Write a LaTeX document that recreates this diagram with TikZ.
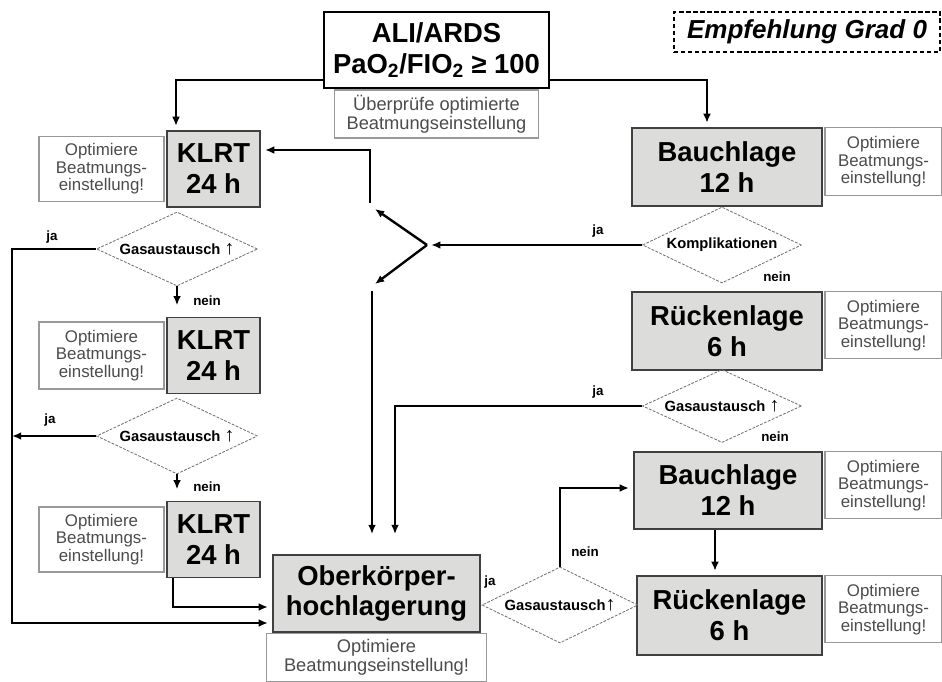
\documentclass[tikz,border=0pt]{standalone}
\usepackage{fontspec}
\setmainfont{Liberation Sans}
\usetikzlibrary{positioning, arrows.meta, shapes.geometric}
\definecolor{BoxGray}{HTML}{DCDCDA}
\newcommand{\up}{{\fontsize{14}{14}\selectfont ↑}}

\begin{document}
\begin{tikzpicture}[x=0.025cm, y=-0.025cm, >={Latex[length=6.5pt,width=5.5pt]},
  font=\fontsize{10}{11}\selectfont,
  wh/.style 2 args={minimum width=#1*0.025cm, minimum height=#2*0.025cm},
  b/.style={rectangle, draw=black!75, line width=1.3pt, fill=BoxGray, inner sep=0pt, align=center, font=\fontsize{19.5}{22}\selectfont\bfseries},
  opt/.style={rectangle, draw=black!40, line width=1pt, fill=white, text=black!70, inner sep=0pt, align=center, font=\fontsize{12}{12.5}\selectfont},
  dec/.style={diamond, aspect=2.1, draw=black!55, line width=0.6pt, dash pattern=on 2pt off 1pt, inner sep=0pt, font=\fontsize{10.5}{11}\selectfont\bfseries},
  lbl/.style={inner sep=0pt, font=\fontsize{9.5}{10}\selectfont\bfseries},
  con/.style={->, line width=1.7pt, shorten >=3pt}]
  \useasboundingbox (0,0) rectangle (942,682);

  % start
  \node[b, wh={225}{76}, fill=white, draw=black, line width=1.7pt] (top) at (436.5,50) {ALI/ARDS\\PaO\textsubscript{2}/FIO\textsubscript{2} ≥ 100};
  \node[opt, wh={204}{48}, font=\fontsize{13}{13.5}\selectfont, below=0pt of top] (chk) {Überprüfe optimierte\\Beatmungseinstellung};
  \node[rectangle, draw, densely dashed, line width=0.8pt, wh={266}{40}, font=\fontsize{18.5}{20}\selectfont\bfseries\itshape] (grad) at (807,32) {Empfehlung Grad 0};

  % KLRT column
  \node[b, wh={93}{76}] (klrtA) at (213.5,169) {KLRT\\24 h};
  \node[opt, wh={125}{65}, left=1pt of klrtA] (optA) {Optimiere\\Beatmungs-\\einstellung!};
  \node[dec, wh={161}{74}] (gasA) at (177,249) {Gasaustausch \up};
  \node[b, wh={93}{76}] (klrtB) at (213.5,355.5) {KLRT\\24 h};
  \node[opt, wh={125}{67}, left=1pt of klrtB] (optB) {Optimiere\\Beatmungs-\\einstellung!};
  \node[dec, wh={161}{76}] (gasB) at (177,436) {Gasaustausch \up};
  \node[b, wh={93}{76}] (klrtC) at (213.5,539.5) {KLRT\\24 h};
  \node[opt, wh={125}{65}, left=1pt of klrtC] (optC) {Optimiere\\Beatmungs-\\einstellung!};

  % Oberkoerper
  \node[b, wh={207}{77}] (ober) at (376.5,593.5) {Oberkörper-\\hochlagerung};
  \node[opt, wh={220}{48}, font=\fontsize{13}{13.5}\selectfont, below=0pt of ober] (optO) {Optimiere\\Beatmungseinstellung!};

  % Lagerung column
  \node[b, wh={190}{78}] (bauchA) at (727,167) {Bauchlage\\12 h};
  \node[opt, wh={117}{68}, right=1pt of bauchA.north east, anchor=north west] (optD) {Optimiere\\Beatmungs-\\einstellung!};
  \node[dec, wh={159}{76}] (komp) at (722,245) {Komplikationen};
  \node[b, wh={190}{78}] (rueckA) at (727,331) {Rückenlage\\6 h};
  \node[opt, wh={117}{67}, right=1pt of rueckA.north east, anchor=north west] (optE) {Optimiere\\Beatmungs-\\einstellung!};
  \node[dec, wh={159}{73}] (gasC) at (722,406) {Gasaustausch \up};
  \node[b, wh={188}{77}] (bauchB) at (728,490.5) {Bauchlage\\12 h};
  \node[opt, wh={117}{67}, right=1pt of bauchB.north east, anchor=north west] (optF) {Optimiere\\Beatmungs-\\einstellung!};
  \node[b, wh={185}{79}] (rueckB) at (729.5,615.5) {Rückenlage\\6 h};
  \node[opt, wh={117}{67}, right=1pt of rueckB.north east, anchor=north west] (optG) {Optimiere\\Beatmungs-\\einstellung!};
  \node[dec, wh={156}{76}] (gasD) at (560,605) {Gasaustausch\up};

  % ja / nein
  \node[lbl] (jaA) at (52,237) {ja};
  \node[lbl] (neinA) at (207,301) {nein};
  \node[lbl] (jaB) at (50,420) {ja};
  \node[lbl] (neinB) at (207,487) {nein};
  \node[lbl] (jaC) at (598,231) {ja};
  \node[lbl] (neinC) at (777,277) {nein};
  \node[lbl] (jaD) at (598,392) {ja};
  \node[lbl] (neinD) at (775,437) {nein};
  \node[lbl] (neinE) at (585,552) {nein};
  \node[lbl] (jaE) at (490,582) {ja};

  % switch
  \coordinate (sw) at (427,245);
  \coordinate (swU) at (375,209);
  \coordinate (swD) at (375,284);
  \coordinate (upIn) at (370,203);
  \coordinate (dnIn) at (372,291);

  \draw[con] (top.west |- 0,80) -| (176,0 |- klrtA.north);
  \draw[con] (top.east |- 0,80) -| (707,0 |- bauchA.north);
  \draw[con] (gasA.west) -| (12,623) -- (ober.west |- 0,623);
  \draw[con, shorten >=0pt] (gasB.west) -- (12,0 |- gasB.west);
  \draw[con, shorten >=8pt] (gasA.south) -- (gasA.south |- klrtB.north);
  \draw[con, shorten >=8pt] (gasB.south) -- (gasB.south |- klrtC.north);
  \draw[con] (173,0 |- klrtC.south) |- (ober.west |- 0,607);
  \draw[con] (komp.west) -- (sw);
  \draw[con, shorten >=0pt] (sw) -- (swU);
  \draw[con, shorten >=0pt] (sw) -- (swD);
  \draw[con] (upIn) |- (klrtA.east |- 0,150);
  \draw[con, shorten >=0.5cm] (dnIn) -- (dnIn |- ober.north);
  \draw[con, shorten >=0.5cm] (gasC.west) -| (395,0 |- ober.north);
  \draw[con] (gasD.north) |- (bauchB.west |- 0,488);
  \draw[con] (715,0 |- bauchB.south) -- (715,0 |- rueckB.north);
\end{tikzpicture}
\end{document}
